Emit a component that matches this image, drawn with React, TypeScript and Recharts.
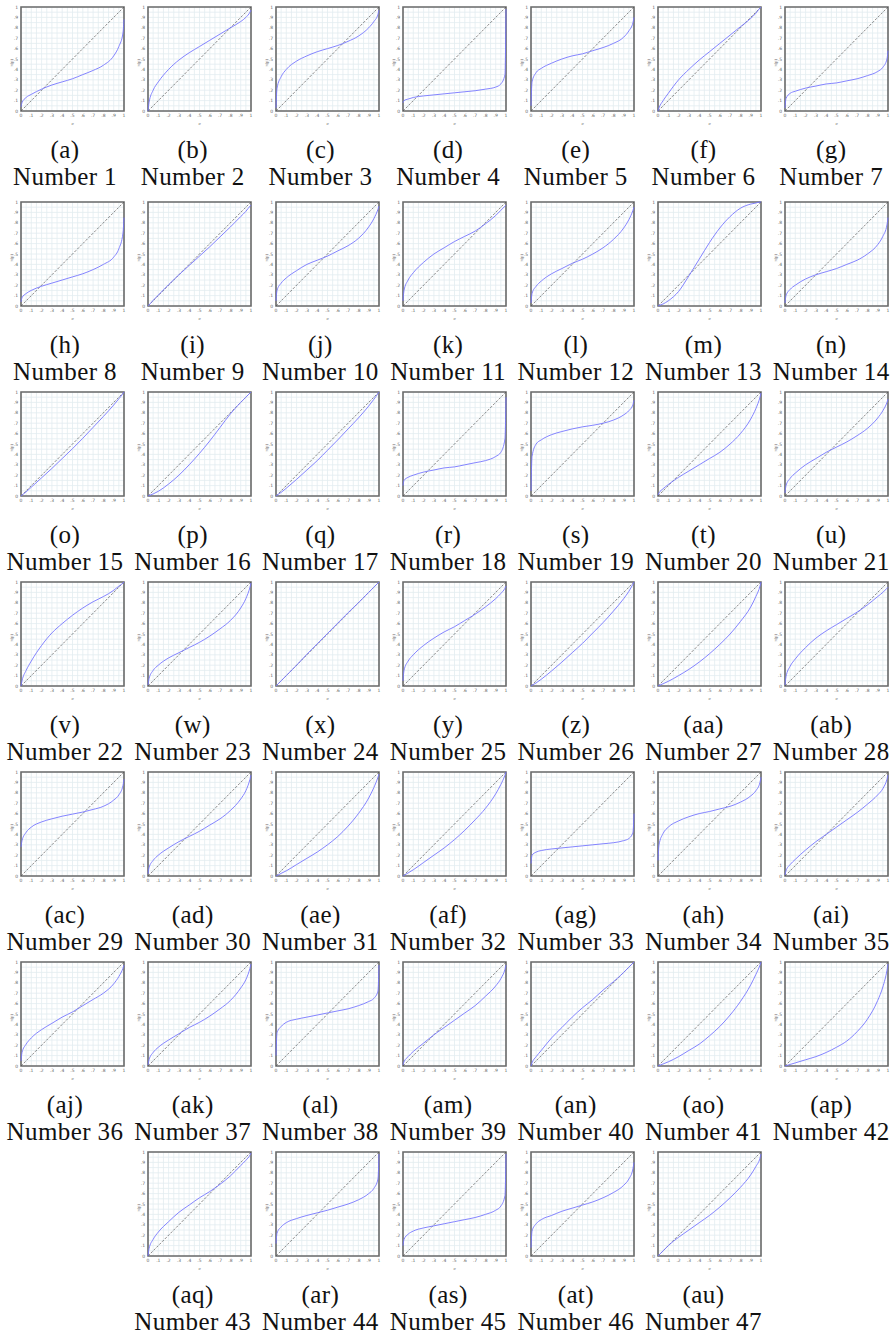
import { LineChart, Line, XAxis, YAxis, CartesianGrid, ReferenceLine, ReferenceArea } from 'recharts';

// p grid shared by every panel
const P = [0, 0.01, 0.05, 0.1, 0.2, 0.3, 0.4, 0.5, 0.6, 0.7, 0.8, 0.9, 0.95, 0.99, 1];

// grid lines every .05, labels every .1
const GRID_TICKS = [0, 0.05, 0.1, 0.15, 0.2, 0.25, 0.3, 0.35, 0.4, 0.45, 0.5, 0.55, 0.6, 0.65, 0.7, 0.75, 0.8, 0.85, 0.9, 0.95, 1];
const TICK_LABELS = ['0', '.1', '.2', '.3', '.4', '.5', '.6', '.7', '.8', '.9', '1'];

const LETTERS = [
  'a', 'b', 'c', 'd', 'e', 'f', 'g', 'h', 'i', 'j', 'k', 'l', 'm', 'n', 'o', 'p', 'q', 'r', 's', 't', 'u', 'v', 'w', 'x', 'y', 'z',
  'aa', 'ab', 'ac', 'ad', 'ae', 'af', 'ag', 'ah', 'ai', 'aj', 'ak', 'al', 'am', 'an', 'ao', 'ap', 'aq', 'ar', 'as', 'at', 'au',
];

// pi(p) at the p values above
const N1 = [0.04, 0.08, 0.13, 0.16, 0.21, 0.25, 0.28, 0.31, 0.35, 0.39, 0.44, 0.53, 0.62, 0.75, 0.88];
const N2 = [0, 0.08, 0.2, 0.28, 0.4, 0.49, 0.56, 0.62, 0.68, 0.74, 0.8, 0.86, 0.9, 0.95, 0.97];
const N3 = [0.03, 0.22, 0.33, 0.4, 0.48, 0.53, 0.57, 0.6, 0.63, 0.67, 0.72, 0.8, 0.86, 0.93, 0.97];
const N4 = [0.08, 0.1, 0.115, 0.13, 0.145, 0.155, 0.165, 0.175, 0.185, 0.195, 0.21, 0.23, 0.26, 0.35, 0.98];
const N5 = [0.05, 0.28, 0.37, 0.41, 0.46, 0.5, 0.53, 0.55, 0.58, 0.61, 0.65, 0.71, 0.77, 0.85, 0.9];
const N6 = [0, 0.03, 0.1, 0.17, 0.3, 0.4, 0.49, 0.57, 0.65, 0.73, 0.81, 0.89, 0.94, 0.99, 1];
const N7 = [0.03, 0.12, 0.17, 0.19, 0.22, 0.24, 0.26, 0.27, 0.29, 0.31, 0.34, 0.38, 0.42, 0.5, 0.58];
const N8 = [0.04, 0.08, 0.12, 0.15, 0.19, 0.22, 0.25, 0.28, 0.31, 0.35, 0.4, 0.47, 0.55, 0.7, 0.85];
const N9 = [0, 0.01, 0.055, 0.105, 0.205, 0.3, 0.39, 0.48, 0.57, 0.665, 0.76, 0.86, 0.91, 0.96, 0.97];
const N10 = [0.05, 0.15, 0.22, 0.27, 0.34, 0.4, 0.44, 0.48, 0.53, 0.58, 0.65, 0.76, 0.84, 0.93, 0.96];
const N11 = [0.05, 0.15, 0.25, 0.32, 0.42, 0.5, 0.56, 0.62, 0.67, 0.72, 0.79, 0.87, 0.92, 0.96, 0.97];
const N12 = [0.03, 0.12, 0.19, 0.24, 0.31, 0.36, 0.41, 0.45, 0.5, 0.56, 0.64, 0.75, 0.83, 0.92, 0.95];
const N13 = [0, 0.005, 0.02, 0.05, 0.14, 0.29, 0.45, 0.61, 0.75, 0.86, 0.94, 0.98, 0.99, 1, 1];
const N14 = [0.03, 0.1, 0.16, 0.2, 0.26, 0.3, 0.33, 0.36, 0.4, 0.44, 0.5, 0.59, 0.67, 0.78, 0.85];
const N15 = [0, 0.008, 0.04, 0.085, 0.175, 0.265, 0.36, 0.455, 0.555, 0.66, 0.765, 0.875, 0.935, 0.985, 1];
const N16 = [0, 0.004, 0.02, 0.045, 0.115, 0.2, 0.3, 0.41, 0.53, 0.66, 0.79, 0.9, 0.95, 0.99, 1];
const N17 = [0, 0.008, 0.035, 0.075, 0.16, 0.25, 0.34, 0.44, 0.54, 0.645, 0.75, 0.865, 0.93, 0.985, 1];
const N18 = [0.1, 0.15, 0.18, 0.2, 0.23, 0.25, 0.27, 0.28, 0.3, 0.32, 0.34, 0.38, 0.42, 0.55, 0.95];
const N19 = [0.05, 0.38, 0.5, 0.54, 0.59, 0.62, 0.645, 0.665, 0.68, 0.7, 0.73, 0.78, 0.82, 0.88, 0.92];
const N20 = [0.01, 0.03, 0.07, 0.11, 0.18, 0.24, 0.3, 0.36, 0.42, 0.5, 0.6, 0.74, 0.84, 0.95, 0.99];
const N21 = [0.03, 0.1, 0.17, 0.22, 0.3, 0.36, 0.42, 0.47, 0.52, 0.58, 0.65, 0.75, 0.82, 0.9, 0.93];
const N22 = [0, 0.05, 0.15, 0.24, 0.39, 0.51, 0.6, 0.68, 0.75, 0.81, 0.86, 0.92, 0.96, 0.99, 1];
const N23 = [0.01, 0.07, 0.15, 0.2, 0.27, 0.32, 0.37, 0.42, 0.48, 0.55, 0.63, 0.75, 0.84, 0.95, 0.99];
const N24 = [0, 0.01, 0.05, 0.1, 0.2, 0.305, 0.405, 0.505, 0.605, 0.705, 0.8, 0.9, 0.95, 0.99, 1];
const N25 = [0.05, 0.15, 0.24, 0.3, 0.39, 0.46, 0.52, 0.57, 0.63, 0.69, 0.76, 0.84, 0.89, 0.94, 0.96];
const N26 = [0, 0.006, 0.03, 0.065, 0.145, 0.23, 0.32, 0.41, 0.51, 0.61, 0.72, 0.84, 0.91, 0.98, 1];
const N27 = [0, 0.005, 0.022, 0.045, 0.1, 0.16, 0.23, 0.31, 0.4, 0.5, 0.62, 0.76, 0.86, 0.96, 1];
const N28 = [0.01, 0.09, 0.19, 0.26, 0.37, 0.46, 0.53, 0.59, 0.65, 0.71, 0.78, 0.86, 0.9, 0.94, 0.95];
const N29 = [0.28, 0.34, 0.42, 0.47, 0.52, 0.55, 0.575, 0.595, 0.615, 0.64, 0.67, 0.73, 0.78, 0.87, 0.93];
const N30 = [0.02, 0.08, 0.15, 0.2, 0.27, 0.33, 0.38, 0.43, 0.49, 0.55, 0.63, 0.74, 0.82, 0.93, 0.97];
const N31 = [0, 0.005, 0.025, 0.05, 0.11, 0.17, 0.23, 0.3, 0.38, 0.48, 0.6, 0.75, 0.85, 0.95, 0.98];
const N32 = [0, 0.006, 0.03, 0.06, 0.13, 0.2, 0.27, 0.35, 0.44, 0.54, 0.65, 0.79, 0.88, 0.97, 1];
const N33 = [0.12, 0.2, 0.23, 0.245, 0.26, 0.27, 0.28, 0.29, 0.3, 0.31, 0.32, 0.34, 0.36, 0.42, 0.6];
const N34 = [0.15, 0.3, 0.41, 0.47, 0.53, 0.57, 0.6, 0.62, 0.645, 0.67, 0.71, 0.77, 0.82, 0.9, 0.95];
const N35 = [0.01, 0.05, 0.11, 0.16, 0.25, 0.33, 0.4, 0.47, 0.54, 0.61, 0.69, 0.78, 0.84, 0.93, 0.97];
const N36 = [0.05, 0.13, 0.21, 0.27, 0.35, 0.41, 0.47, 0.52, 0.58, 0.64, 0.7, 0.79, 0.86, 0.94, 0.97];
const N37 = [0.01, 0.06, 0.13, 0.18, 0.25, 0.31, 0.37, 0.42, 0.48, 0.55, 0.63, 0.75, 0.83, 0.94, 0.98];
const N38 = [0.1, 0.32, 0.38, 0.42, 0.45, 0.47, 0.49, 0.51, 0.53, 0.55, 0.58, 0.62, 0.65, 0.72, 0.97];
const N39 = [0.01, 0.04, 0.09, 0.14, 0.22, 0.3, 0.37, 0.44, 0.51, 0.58, 0.67, 0.77, 0.84, 0.93, 0.97];
const N40 = [0, 0.03, 0.09, 0.15, 0.27, 0.37, 0.47, 0.56, 0.64, 0.73, 0.81, 0.9, 0.95, 0.99, 1];
const N41 = [0, 0.004, 0.02, 0.04, 0.09, 0.15, 0.21, 0.29, 0.38, 0.49, 0.62, 0.78, 0.88, 0.97, 1];
const N42 = [0, 0.003, 0.015, 0.03, 0.06, 0.09, 0.13, 0.18, 0.24, 0.33, 0.45, 0.63, 0.76, 0.92, 0.98];
const N43 = [0, 0.07, 0.16, 0.23, 0.33, 0.42, 0.49, 0.56, 0.62, 0.69, 0.77, 0.87, 0.92, 0.97, 0.99];
const N44 = [0.12, 0.22, 0.28, 0.32, 0.36, 0.39, 0.415, 0.44, 0.47, 0.5, 0.54, 0.6, 0.65, 0.74, 0.98];
const N45 = [0.1, 0.16, 0.21, 0.24, 0.27, 0.29, 0.31, 0.33, 0.35, 0.37, 0.4, 0.44, 0.48, 0.58, 0.98];
const N46 = [0.08, 0.24, 0.31, 0.35, 0.39, 0.43, 0.46, 0.49, 0.52, 0.56, 0.61, 0.68, 0.74, 0.84, 0.9];
const N47 = [0, 0.01, 0.05, 0.1, 0.18, 0.25, 0.32, 0.39, 0.47, 0.56, 0.66, 0.78, 0.86, 0.94, 0.98];

const CURVES = [
  N1, N2, N3, N4, N5, N6, N7, N8, N9, N10, N11, N12, N13, N14, N15, N16, N17, N18, N19, N20, N21, N22, N23, N24,
  N25, N26, N27, N28, N29, N30, N31, N32, N33, N34, N35, N36, N37, N38, N39, N40, N41, N42, N43, N44, N45, N46, N47,
];

const BOX_TOPS = [7, 202, 392, 582, 772, 962, 1152];
const BOX_H = 104;
const COL_STEP = 127.4;

const tickText = (v: number) => {
  const k = Math.round(v * 20);
  return k % 2 === 0 ? TICK_LABELS[k / 2] : '';
};

function Panel({ values, left, top }: { values: number[]; left: number; top: number }) {
  const data = P.map((p, j) => ({ p, v: values[j] }));
  const tickStyle = { fontSize: 4.5, fill: '#666', fontFamily: 'DejaVu Sans' };
  return (
    <div style={{ position: 'absolute', left: left - 17, top: top - 3 }}>
      <LineChart width={123} height={121} data={data} margin={{ top: 3, right: 3, left: 9, bottom: 0 }}>
        <CartesianGrid stroke="#e2ecf0" strokeWidth={0.8} />
        <XAxis
          dataKey="p"
          type="number"
          domain={[0, 1]}
          ticks={GRID_TICKS}
          tickFormatter={tickText}
          tick={tickStyle}
          tickLine={false}
          axisLine={false}
          tickSize={2}
          tickMargin={1}
          interval={0}
          height={14}
          label={{ value: 'p', position: 'insideBottom', offset: 0, fontSize: 4.5, fill: '#666', fontStyle: 'italic' }}
        />
        <YAxis
          type="number"
          domain={[0, 1]}
          ticks={GRID_TICKS}
          tickFormatter={tickText}
          tick={tickStyle}
          tickLine={false}
          axisLine={false}
          tickSize={2}
          tickMargin={1}
          interval={0}
          width={8}
          label={{ value: 'π(p)', angle: -90, position: 'left', offset: 2, fontSize: 4.5, fill: '#666' }}
        />
        <ReferenceLine
          segment={[{ x: 0, y: 0 }, { x: 1, y: 1 }]}
          stroke="#555"
          strokeWidth={0.7}
          strokeDasharray="2.5 1.5"
        />
        <Line
          dataKey="v"
          type="monotone"
          stroke="#7676ff"
          strokeWidth={0.9}
          dot={false}
          isAnimationActive={false}
        />
        <ReferenceArea x1={0} x2={1} y1={0} y2={1} fill="none" stroke="#6a6a6a" strokeWidth={1.6} ifOverflow="visible" />
      </LineChart>
    </div>
  );
}

export default function App() {
  const capStyle = {
    position: 'absolute' as const,
    width: 128,
    height: 26,
    lineHeight: '26px',
    textAlign: 'center' as const,
    fontFamily: '"Liberation Serif", serif',
    fontSize: 25,
    letterSpacing: 0.4,
    color: '#111',
    whiteSpace: 'nowrap' as const,
  };
  return (
    <div style={{ position: 'absolute', left: 0, top: 0, width: 896, height: 1335, background: '#fff' }}>
      {CURVES.map((values, i) => {
        const row = Math.floor(i / 7);
        const col = i < 42 ? i % 7 : i - 42 + 1;
        const left = 21 + col * COL_STEP;
        const top = BOX_TOPS[row];
        const bottom = top + BOX_H;
        const cx = 65 + col * 127.7;
        return (
          <div key={i}>
            <Panel values={values} left={left} top={top} />
            <div style={{ ...capStyle, left: cx - 64, top: bottom + 39 - 13 }}>({LETTERS[i]})</div>
            <div style={{ ...capStyle, left: cx - 64, top: bottom + 66 - 13 }}>Number {i + 1}</div>
          </div>
        );
      })}
    </div>
  );
}
